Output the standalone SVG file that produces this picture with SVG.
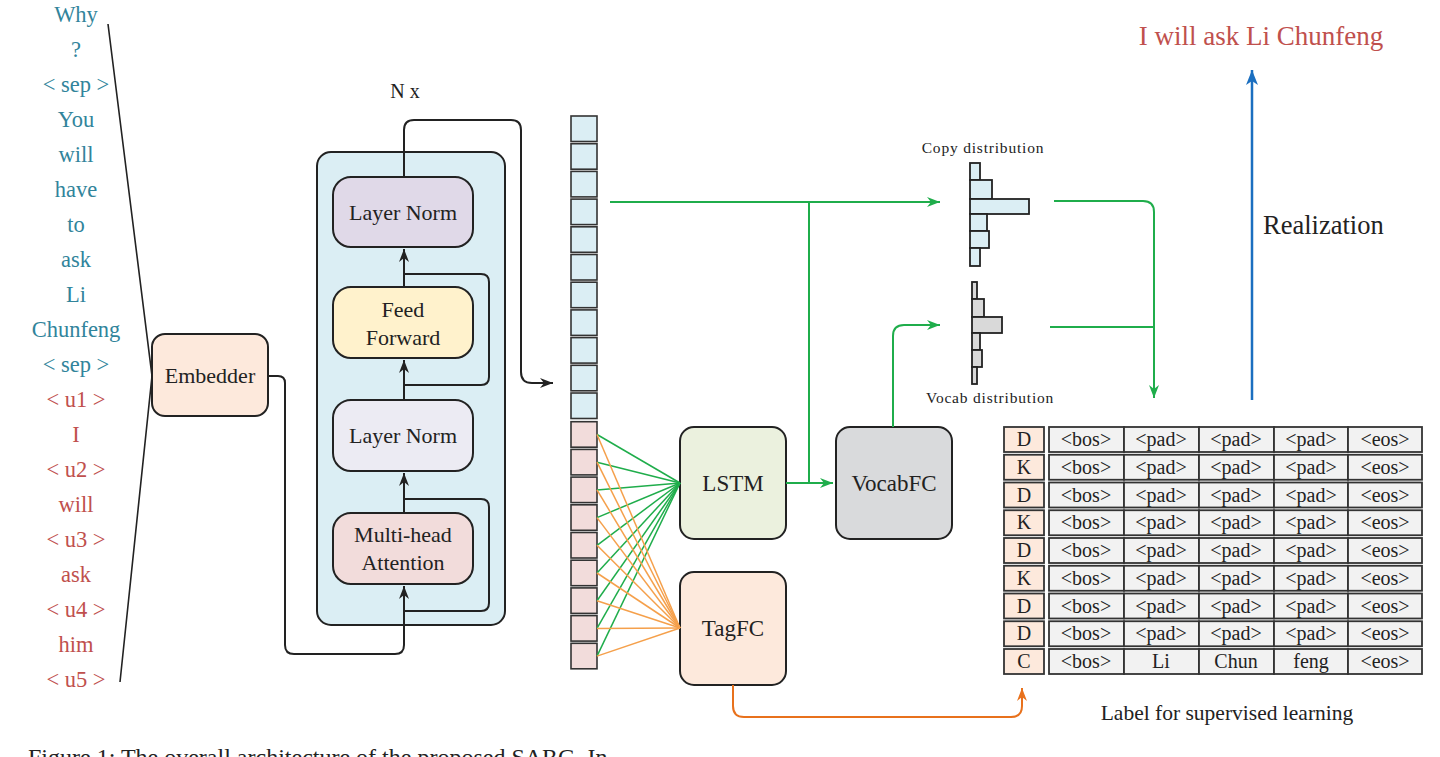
<svg xmlns="http://www.w3.org/2000/svg" width="1440" height="757" viewBox="0 0 1440 757">
<defs>
<marker id="ab" markerUnits="userSpaceOnUse" markerWidth="14" markerHeight="12" refX="13" refY="5" orient="auto"><path d="M0,0 L13,5 L0,10 L4,5 z" fill="#222"/></marker>
<marker id="ag" markerUnits="userSpaceOnUse" markerWidth="14" markerHeight="12" refX="13" refY="5" orient="auto"><path d="M0,0 L13,5 L0,10 L4,5 z" fill="#1fad4b"/></marker>
<marker id="ao" markerUnits="userSpaceOnUse" markerWidth="14" markerHeight="12" refX="13" refY="5" orient="auto"><path d="M0,0 L13,5 L0,10 L4,5 z" fill="#e8711c"/></marker>
<marker id="abl" markerUnits="userSpaceOnUse" markerWidth="16" markerHeight="14" refX="15" refY="6" orient="auto"><path d="M0,0 L15,6 L0,12 L4,6 z" fill="#1b6fc0"/></marker>
</defs>
<style>
text{font-family:"Liberation Serif","Times New Roman",serif;fill:#222}
.tk{font-size:22.5px;text-anchor:middle}
.teal{fill:#31849b}
.red{fill:#c0504d}
.box{stroke:#222;stroke-width:2}
.lbl{font-size:22px;text-anchor:middle}
.ln{fill:none;stroke:#222;stroke-width:2}
.gl{fill:none;stroke:#1fad4b;stroke-width:2}
.fg{stroke:#1fad4b;stroke-width:1.5}
.fo{stroke:#f5a04b;stroke-width:1.5}
.cellb{fill:#dbeef4;stroke:#333;stroke-width:1.6}
.cellp{fill:#f2dcdb;stroke:#333;stroke-width:1.6}
.bar1{fill:#dbeef4;stroke:#222;stroke-width:1.8}
.bar2{fill:#d9d9d9;stroke:#222;stroke-width:1.8}
.tl{fill:#fde9dc;stroke:#333;stroke-width:1.8}
.tc{fill:#f2f2f2;stroke:#333;stroke-width:1.8}
.tt{font-size:20px;text-anchor:middle}
</style>

<g id="tokens">
<text class="tk teal" x="76" y="22">Why</text>
<text class="tk teal" x="76" y="57">?</text>
<text class="tk teal" x="76" y="92">&lt; sep &gt;</text>
<text class="tk teal" x="76" y="127">You</text>
<text class="tk teal" x="76" y="162">will</text>
<text class="tk teal" x="76" y="197">have</text>
<text class="tk teal" x="76" y="232">to</text>
<text class="tk teal" x="76" y="267">ask</text>
<text class="tk teal" x="76" y="302">Li</text>
<text class="tk teal" x="76" y="337">Chunfeng</text>
<text class="tk teal" x="76" y="372">&lt; sep &gt;</text>
<text class="tk red" x="76" y="407">&lt; u1 &gt;</text>
<text class="tk red" x="76" y="442">I</text>
<text class="tk red" x="76" y="477">&lt; u2 &gt;</text>
<text class="tk red" x="76" y="512">will</text>
<text class="tk red" x="76" y="547">&lt; u3 &gt;</text>
<text class="tk red" x="76" y="582">ask</text>
<text class="tk red" x="76" y="617">&lt; u4 &gt;</text>
<text class="tk red" x="76" y="652">him</text>
<text class="tk red" x="76" y="687">&lt; u5 &gt;</text>
<path d="M108,24 L152,376 L120,682" fill="none" stroke="#222" stroke-width="1.6"/>
</g>

<g id="embedder">
<rect class="box" x="152" y="334" width="116" height="82" rx="13" fill="#fde9dc"/>
<text class="lbl" x="210" y="383">Embedder</text>
</g>

<g id="encoder">
<rect class="box" x="317" y="152" width="188" height="473" rx="14" fill="#dbeef4"/>
<text x="405" y="98" style="font-size:20px;text-anchor:middle">N x</text>
</g>
<g id="layernorm-top">
<rect class="box" x="333" y="177" width="140" height="70" rx="18" fill="#e0d9e8"/>
<text class="lbl" x="403" y="220">Layer Norm</text>
</g>
<g id="feedforward">
<rect class="box" x="333" y="287" width="140" height="71" rx="18" fill="#fff2cc"/>
<text class="lbl" x="403" y="317">Feed</text>
<text class="lbl" x="403" y="345">Forward</text>
</g>
<g id="layernorm-bottom">
<rect class="box" x="333" y="400" width="140" height="71" rx="18" fill="#ecebf3"/>
<text class="lbl" x="403" y="443">Layer Norm</text>
</g>
<g id="attention">
<rect class="box" x="333" y="513" width="140" height="71" rx="18" fill="#f2dcdb"/>
<text class="lbl" x="403" y="542">Multi-head</text>
<text class="lbl" x="403" y="570">Attention</text>
</g>

<g id="vectors">
<rect class="cellb" x="571" y="116" width="26" height="25.5"/>
<rect class="cellb" x="571" y="143.7" width="26" height="25.5"/>
<rect class="cellb" x="571" y="171.4" width="26" height="25.5"/>
<rect class="cellb" x="571" y="199.1" width="26" height="25.5"/>
<rect class="cellb" x="571" y="226.8" width="26" height="25.5"/>
<rect class="cellb" x="571" y="254.5" width="26" height="25.5"/>
<rect class="cellb" x="571" y="282.2" width="26" height="25.5"/>
<rect class="cellb" x="571" y="309.9" width="26" height="25.5"/>
<rect class="cellb" x="571" y="337.6" width="26" height="25.5"/>
<rect class="cellb" x="571" y="365.3" width="26" height="25.5"/>
<rect class="cellb" x="571" y="393" width="26" height="25.5"/>
<rect class="cellp" x="571" y="421.7" width="26" height="25.5"/>
<rect class="cellp" x="571" y="449.4" width="26" height="25.5"/>
<rect class="cellp" x="571" y="477.1" width="26" height="25.5"/>
<rect class="cellp" x="571" y="504.8" width="26" height="25.5"/>
<rect class="cellp" x="571" y="532.5" width="26" height="25.5"/>
<rect class="cellp" x="571" y="560.2" width="26" height="25.5"/>
<rect class="cellp" x="571" y="587.9" width="26" height="25.5"/>
<rect class="cellp" x="571" y="615.6" width="26" height="25.5"/>
<rect class="cellp" x="571" y="643.3" width="26" height="25.5"/>
</g>

<g id="lstm">
<rect class="box" x="680" y="427" width="106" height="112" rx="14" fill="#ebf1de"/>
<text x="733" y="491" style="font-size:23px;text-anchor:middle">LSTM</text>
</g>
<g id="tagfc">
<rect class="box" x="680" y="572" width="106" height="113" rx="14" fill="#fde9dc"/>
<text x="733" y="636" style="font-size:23px;text-anchor:middle">TagFC</text>
</g>
<g id="vocabfc">
<rect class="box" x="836" y="427" width="116" height="112" rx="14" fill="#d9dadc"/>
<text x="894" y="491" style="font-size:23px;text-anchor:middle">VocabFC</text>
</g>

<g id="copy-distribution">
<text x="983" y="153" style="font-size:15.5px;text-anchor:middle;letter-spacing:0.8px">Copy distribution</text>
<rect class="bar1" x="970" y="163" width="10" height="17"/>
<rect class="bar1" x="970" y="180" width="22" height="19"/>
<rect class="bar1" x="970" y="199" width="59" height="15"/>
<rect class="bar1" x="970" y="214" width="17" height="17"/>
<rect class="bar1" x="970" y="231" width="19" height="17"/>
<rect class="bar1" x="970" y="248" width="10" height="18"/>
</g>
<g id="vocab-distribution">
<rect class="bar2" x="972" y="282" width="5" height="17"/>
<rect class="bar2" x="972" y="299" width="12" height="18"/>
<rect class="bar2" x="972" y="317" width="30" height="16"/>
<rect class="bar2" x="972" y="333" width="8" height="17"/>
<rect class="bar2" x="972" y="350" width="10" height="17"/>
<rect class="bar2" x="972" y="367" width="5" height="17"/>
<text x="990" y="403" style="font-size:15.5px;text-anchor:middle;letter-spacing:0.8px">Vocab distribution</text>
</g>

<g id="output">
<text x="1261" y="45" style="font-size:27px;text-anchor:middle;fill:#c0504d">I will ask Li Chunfeng</text>
<text x="1263" y="234" style="font-size:26.5px">Realization</text>
</g>

<g id="label-table">
<rect class="tl" x="1004" y="427" width="40" height="25"/><text class="tt" x="1024" y="446">D</text>
<rect class="tl" x="1004" y="454.75" width="40" height="25"/><text class="tt" x="1024" y="473.75">K</text>
<rect class="tl" x="1004" y="482.5" width="40" height="25"/><text class="tt" x="1024" y="501.5">D</text>
<rect class="tl" x="1004" y="510.25" width="40" height="25"/><text class="tt" x="1024" y="529.25">K</text>
<rect class="tl" x="1004" y="538" width="40" height="25"/><text class="tt" x="1024" y="557">D</text>
<rect class="tl" x="1004" y="565.75" width="40" height="25"/><text class="tt" x="1024" y="584.75">K</text>
<rect class="tl" x="1004" y="593.5" width="40" height="25"/><text class="tt" x="1024" y="612.5">D</text>
<rect class="tl" x="1004" y="621.25" width="40" height="25"/><text class="tt" x="1024" y="640.25">D</text>
<rect class="tl" x="1004" y="649" width="40" height="25"/><text class="tt" x="1024" y="668">C</text>

<g id="row1"><rect class="tc" x="1049" y="427" width="75" height="25"/><rect class="tc" x="1124" y="427" width="75" height="25"/><rect class="tc" x="1199" y="427" width="75" height="25"/><rect class="tc" x="1274" y="427" width="74" height="25"/><rect class="tc" x="1348" y="427" width="74" height="25"/>
<text class="tt" x="1086" y="446">&lt;bos&gt;</text><text class="tt" x="1161" y="446">&lt;pad&gt;</text><text class="tt" x="1236" y="446">&lt;pad&gt;</text><text class="tt" x="1311" y="446">&lt;pad&gt;</text><text class="tt" x="1385" y="446">&lt;eos&gt;</text></g>
<g id="row2"><rect class="tc" x="1049" y="454.75" width="75" height="25"/><rect class="tc" x="1124" y="454.75" width="75" height="25"/><rect class="tc" x="1199" y="454.75" width="75" height="25"/><rect class="tc" x="1274" y="454.75" width="74" height="25"/><rect class="tc" x="1348" y="454.75" width="74" height="25"/>
<text class="tt" x="1086" y="473.75">&lt;bos&gt;</text><text class="tt" x="1161" y="473.75">&lt;pad&gt;</text><text class="tt" x="1236" y="473.75">&lt;pad&gt;</text><text class="tt" x="1311" y="473.75">&lt;pad&gt;</text><text class="tt" x="1385" y="473.75">&lt;eos&gt;</text></g>
<g id="row3"><rect class="tc" x="1049" y="482.5" width="75" height="25"/><rect class="tc" x="1124" y="482.5" width="75" height="25"/><rect class="tc" x="1199" y="482.5" width="75" height="25"/><rect class="tc" x="1274" y="482.5" width="74" height="25"/><rect class="tc" x="1348" y="482.5" width="74" height="25"/>
<text class="tt" x="1086" y="501.5">&lt;bos&gt;</text><text class="tt" x="1161" y="501.5">&lt;pad&gt;</text><text class="tt" x="1236" y="501.5">&lt;pad&gt;</text><text class="tt" x="1311" y="501.5">&lt;pad&gt;</text><text class="tt" x="1385" y="501.5">&lt;eos&gt;</text></g>
<g id="row4"><rect class="tc" x="1049" y="510.25" width="75" height="25"/><rect class="tc" x="1124" y="510.25" width="75" height="25"/><rect class="tc" x="1199" y="510.25" width="75" height="25"/><rect class="tc" x="1274" y="510.25" width="74" height="25"/><rect class="tc" x="1348" y="510.25" width="74" height="25"/>
<text class="tt" x="1086" y="529.25">&lt;bos&gt;</text><text class="tt" x="1161" y="529.25">&lt;pad&gt;</text><text class="tt" x="1236" y="529.25">&lt;pad&gt;</text><text class="tt" x="1311" y="529.25">&lt;pad&gt;</text><text class="tt" x="1385" y="529.25">&lt;eos&gt;</text></g>
<g id="row5"><rect class="tc" x="1049" y="538" width="75" height="25"/><rect class="tc" x="1124" y="538" width="75" height="25"/><rect class="tc" x="1199" y="538" width="75" height="25"/><rect class="tc" x="1274" y="538" width="74" height="25"/><rect class="tc" x="1348" y="538" width="74" height="25"/>
<text class="tt" x="1086" y="557">&lt;bos&gt;</text><text class="tt" x="1161" y="557">&lt;pad&gt;</text><text class="tt" x="1236" y="557">&lt;pad&gt;</text><text class="tt" x="1311" y="557">&lt;pad&gt;</text><text class="tt" x="1385" y="557">&lt;eos&gt;</text></g>
<g id="row6"><rect class="tc" x="1049" y="565.75" width="75" height="25"/><rect class="tc" x="1124" y="565.75" width="75" height="25"/><rect class="tc" x="1199" y="565.75" width="75" height="25"/><rect class="tc" x="1274" y="565.75" width="74" height="25"/><rect class="tc" x="1348" y="565.75" width="74" height="25"/>
<text class="tt" x="1086" y="584.75">&lt;bos&gt;</text><text class="tt" x="1161" y="584.75">&lt;pad&gt;</text><text class="tt" x="1236" y="584.75">&lt;pad&gt;</text><text class="tt" x="1311" y="584.75">&lt;pad&gt;</text><text class="tt" x="1385" y="584.75">&lt;eos&gt;</text></g>
<g id="row7"><rect class="tc" x="1049" y="593.5" width="75" height="25"/><rect class="tc" x="1124" y="593.5" width="75" height="25"/><rect class="tc" x="1199" y="593.5" width="75" height="25"/><rect class="tc" x="1274" y="593.5" width="74" height="25"/><rect class="tc" x="1348" y="593.5" width="74" height="25"/>
<text class="tt" x="1086" y="612.5">&lt;bos&gt;</text><text class="tt" x="1161" y="612.5">&lt;pad&gt;</text><text class="tt" x="1236" y="612.5">&lt;pad&gt;</text><text class="tt" x="1311" y="612.5">&lt;pad&gt;</text><text class="tt" x="1385" y="612.5">&lt;eos&gt;</text></g>
<g id="row8"><rect class="tc" x="1049" y="621.25" width="75" height="25"/><rect class="tc" x="1124" y="621.25" width="75" height="25"/><rect class="tc" x="1199" y="621.25" width="75" height="25"/><rect class="tc" x="1274" y="621.25" width="74" height="25"/><rect class="tc" x="1348" y="621.25" width="74" height="25"/>
<text class="tt" x="1086" y="640.25">&lt;bos&gt;</text><text class="tt" x="1161" y="640.25">&lt;pad&gt;</text><text class="tt" x="1236" y="640.25">&lt;pad&gt;</text><text class="tt" x="1311" y="640.25">&lt;pad&gt;</text><text class="tt" x="1385" y="640.25">&lt;eos&gt;</text></g>
<g id="row9"><rect class="tc" x="1049" y="649" width="75" height="25"/><rect class="tc" x="1124" y="649" width="75" height="25"/><rect class="tc" x="1199" y="649" width="75" height="25"/><rect class="tc" x="1274" y="649" width="74" height="25"/><rect class="tc" x="1348" y="649" width="74" height="25"/>
<text class="tt" x="1086" y="668">&lt;bos&gt;</text><text class="tt" x="1161" y="668">Li</text><text class="tt" x="1236" y="668">Chun</text><text class="tt" x="1311" y="668">feng</text><text class="tt" x="1385" y="668">&lt;eos&gt;</text></g>
<text x="1227" y="720" style="font-size:21.5px;text-anchor:middle">Label for supervised learning</text>
</g>

<g id="connectors">
<path class="ln" d="M268,376 H278 Q285,376 285,383 V645 Q285,654 294,654 H395 Q404,654 404,645 V586" marker-end="url(#ab)"/>
<path class="ln" d="M404,611 H481 Q489,611 489,603 V507 Q489,499 481,499 H404"/>
<path class="ln" d="M404,513 V473" marker-end="url(#ab)"/>
<path class="ln" d="M404,385 H481 Q489,385 489,377 V282 Q489,274 481,274 H404"/>
<path class="ln" d="M404,400 V360" marker-end="url(#ab)"/>
<path class="ln" d="M404,287 V249" marker-end="url(#ab)"/>
<path class="ln" d="M404,177 V130 Q404,120 414,120 H511 Q521,120 521,130 V372 Q521,383 532,383 H553" marker-end="url(#ab)"/>

<g id="fan-green">
<line class="fg" x1="597" y1="434.5" x2="680" y2="483"/>
<line class="fg" x1="597" y1="462.2" x2="680" y2="483"/>
<line class="fg" x1="597" y1="489.9" x2="680" y2="483"/>
<line class="fg" x1="597" y1="517.6" x2="680" y2="483"/>
<line class="fg" x1="597" y1="545.3" x2="680" y2="483"/>
<line class="fg" x1="597" y1="573" x2="680" y2="483"/>
<line class="fg" x1="597" y1="600.7" x2="680" y2="483"/>
<line class="fg" x1="597" y1="628.4" x2="680" y2="483"/>
<line class="fg" x1="597" y1="656.1" x2="680" y2="483"/>
</g>
<g id="fan-orange">
<line class="fo" x1="597" y1="434.5" x2="680" y2="628"/>
<line class="fo" x1="597" y1="462.2" x2="680" y2="628"/>
<line class="fo" x1="597" y1="489.9" x2="680" y2="628"/>
<line class="fo" x1="597" y1="517.6" x2="680" y2="628"/>
<line class="fo" x1="597" y1="545.3" x2="680" y2="628"/>
<line class="fo" x1="597" y1="573" x2="680" y2="628"/>
<line class="fo" x1="597" y1="600.7" x2="680" y2="628"/>
<line class="fo" x1="597" y1="628.4" x2="680" y2="628"/>
<line class="fo" x1="597" y1="656.1" x2="680" y2="628"/>
</g>

<path class="gl" d="M610,202 H940" marker-end="url(#ag)"/>
<path class="gl" d="M809,202 V483"/>
<path class="gl" d="M786,483 H833" marker-end="url(#ag)"/>
<path class="gl" d="M893,427 V336 Q893,325 904,325 H940" marker-end="url(#ag)"/>
<path class="gl" d="M1054,201 H1143 Q1154,201 1154,212 V398" marker-end="url(#ag)"/>
<path class="gl" d="M1050,327 H1154"/>
<path d="M733,685 V706 Q733,717 744,717 H1011 Q1022,717 1022,706 V688" fill="none" stroke="#e8711c" stroke-width="2" marker-end="url(#ao)"/>
<path d="M1252,400 V70" fill="none" stroke="#1b6fc0" stroke-width="2.5" marker-end="url(#abl)"/>
</g>

<text x="28" y="765" style="font-size:24px">Figure 1: The overall architecture of the proposed SARG. In</text>
</svg>
